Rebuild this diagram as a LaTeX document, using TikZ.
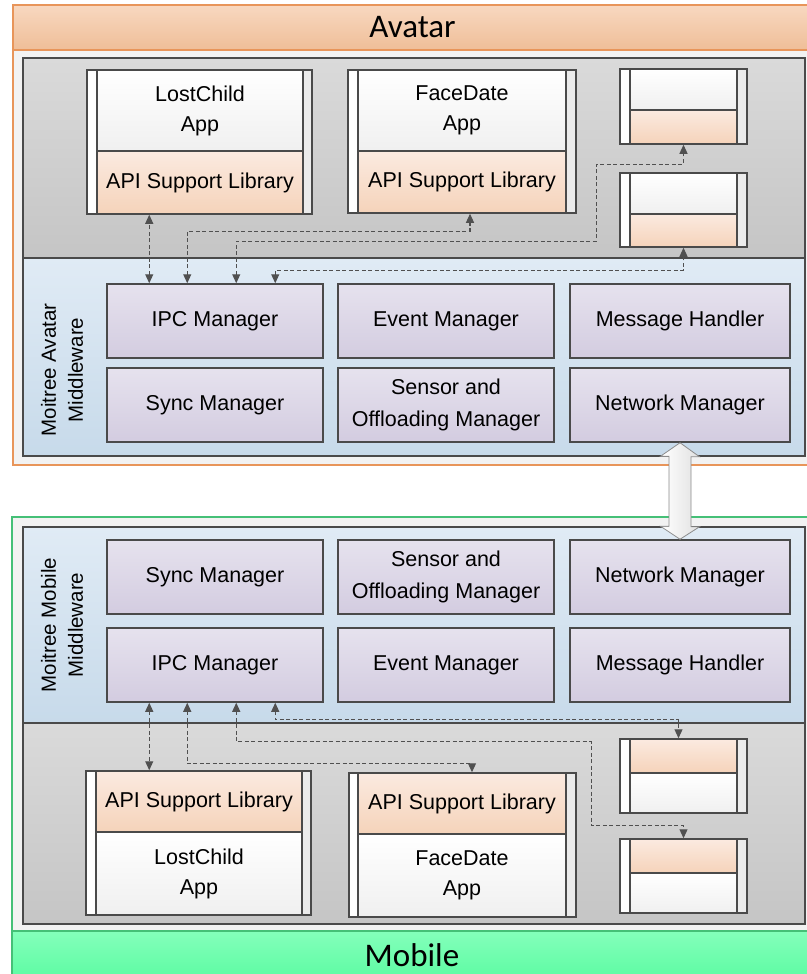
\documentclass[tikz,border=0pt]{standalone}
\usepackage{fontspec}
\setmainfont{Liberation Sans}
\newfontfamily\headfont{Carlito}
\usetikzlibrary{arrows.meta,calc}

\definecolor{frameorange}{HTML}{E8955A}
\definecolor{framegreen}{HTML}{45C077}
\definecolor{boxline}{HTML}{4A4A4A}
\definecolor{linkgray}{HTML}{505050}
\definecolor{orangetop}{HTML}{F8D8C0}
\definecolor{orangebot}{HTML}{EFBE98}
\definecolor{greentop}{HTML}{84FFBB}
\definecolor{greenbot}{HTML}{5CFBA2}
\definecolor{graytop}{HTML}{DADADA}
\definecolor{graybot}{HTML}{C5C5C5}
\definecolor{bluetop}{HTML}{E0EBF5}
\definecolor{bluebot}{HTML}{C7DAEA}
\definecolor{mgrtop}{HTML}{E6E2EE}
\definecolor{mgrbot}{HTML}{D3CCE0}
\definecolor{libtop}{HTML}{FBEAE0}
\definecolor{libbot}{HTML}{F5D3BA}

\tikzset{
  frame/.style={draw, line width=1.5pt, fill=black!5, inner sep=0pt},
  header/.style={draw, line width=1.5pt, inner sep=0pt, font=\headfont\fontsize{33}{36}\selectfont},
  panel/.style={draw=boxline, line width=1.5pt, inner sep=0pt},
  mgr/.style={draw=boxline, line width=1.5pt, inner sep=0pt, align=center,
    minimum height=74pt, top color=mgrtop, bottom color=mgrbot,
    font=\fontsize{21.5}{32}\selectfont},
  appouter/.style={draw=boxline, line width=1.5pt, inner sep=0pt, left color=white, right color=black!8},
  apppart/.style={draw=boxline, line width=1.5pt, inner sep=0pt, align=center,
    top color=white, bottom color=black!6, font=\fontsize{21.5}{30}\selectfont},
  libpart/.style={draw=boxline, line width=1.5pt, inner sep=0pt, align=center,
    top color=libtop, bottom color=libbot, font=\fontsize{21.5}{30}\selectfont},
  link/.style={draw=linkgray, line width=1.1pt, dash pattern=on 4pt off 2.5pt,
    {Triangle[length=9pt,width=8pt]}-{Triangle[length=9pt,width=8pt]}},
  bigarrow/.style={draw=black!45, line width=0.8pt, left color=white, right color=black!12}
}

\begin{document}
\begin{tikzpicture}[x=1pt, y=-1pt]
  \useasboundingbox (0,0) rectangle (806,974);

  % Avatar side
  \node[frame, draw=frameorange, minimum width=799pt, minimum height=460pt] (avatar) at (412.5,235) {};
  \node[header, draw=frameorange, top color=orangetop, bottom color=orangebot,
    minimum width=799pt, minimum height=45pt] (avatarhead) at (412.5,27.5) {Avatar};
  \node[panel, top color=graytop, bottom color=graybot, minimum width=782pt, minimum height=200pt] (appsA) at (414,158) {};
  \node[panel, top color=bluetop, bottom color=bluebot, minimum width=782pt, minimum height=198pt] (mwA) at (414,357) {};
  \node[rotate=90, align=center, font=\fontsize{20.5}{27}\selectfont] (mwlabelA) at (62,370) {Moitree Avatar\\Middleware};

  \node[mgr, minimum width=216pt] (ipcA)   at (215,321) {IPC Manager};
  \node[mgr, minimum width=216pt] (evtA)   at (446,321) {Event Manager};
  \node[mgr, minimum width=220pt] (msgA)   at (680,321) {Message Handler};
  \node[mgr, minimum width=216pt] (syncA)  at (215,405) {Sync Manager};
  \node[mgr, minimum width=216pt] (sensA)  at (446,405) {Sensor and\\Offloading Manager};
  \node[mgr, minimum width=220pt] (netA)   at (680,405) {Network Manager};

  \node[appouter, minimum width=225pt, minimum height=144pt] (lostA) at (199.5,142) {};
  \node[apppart, minimum width=206pt, minimum height=81pt] (lostappA) at (200,110.5) {LostChild\\App};
  \node[libpart, minimum width=206pt, minimum height=63pt] (libA1) at (200,182.5) {API Support Library};

  \node[appouter, minimum width=228pt, minimum height=143pt] (faceA) at (462,141.5) {};
  \node[apppart, minimum width=208pt, minimum height=81pt] (faceappA) at (462,110.5) {FaceDate\\App};
  \node[libpart, minimum width=208pt, minimum height=62pt] (libA2) at (462,182) {API Support Library};

  \node[appouter, minimum width=127pt, minimum height=75pt] (smallA1) at (683.5,106.5) {};
  \node[apppart, minimum width=107pt, minimum height=41pt] (smalltopA1) at (683.5,89.5) {};
  \node[libpart, minimum width=107pt, minimum height=34pt] (smalllibA1) at (683.5,127) {};

  \node[appouter, minimum width=127pt, minimum height=74pt] (smallA2) at (683.5,210) {};
  \node[apppart, minimum width=107pt, minimum height=41pt] (smalltopA2) at (683.5,193.5) {};
  \node[libpart, minimum width=107pt, minimum height=33pt] (smalllibA2) at (683.5,230.5) {};

  % Mobile side
  \node[frame, draw=framegreen, minimum width=800pt, minimum height=463pt] (mobile) at (412,748.5) {};
  \node[header, draw=framegreen, top color=greentop, bottom color=greenbot,
    minimum width=800pt, minimum height=49pt] (mobilehead) at (412,955.5) {Mobile};
  \node[panel, top color=bluetop, bottom color=bluebot, minimum width=782pt, minimum height=196pt] (mwM) at (414,625) {};
  \node[panel, top color=graytop, bottom color=graybot, minimum width=782pt, minimum height=201pt] (appsM) at (414,823.5) {};
  \node[rotate=90, align=center, font=\fontsize{20.5}{27}\selectfont] (mwlabelM) at (62,625) {Moitree Mobile\\Middleware};

  \node[mgr, minimum width=216pt] (syncM)  at (215,577) {Sync Manager};
  \node[mgr, minimum width=216pt] (sensM)  at (446,577) {Sensor and\\Offloading Manager};
  \node[mgr, minimum width=220pt] (netM)   at (680,577) {Network Manager};
  \node[mgr, minimum width=216pt] (ipcM)   at (215,665) {IPC Manager};
  \node[mgr, minimum width=216pt] (evtM)   at (446,665) {Event Manager};
  \node[mgr, minimum width=220pt] (msgM)   at (680,665) {Message Handler};

  \node[appouter, minimum width=225pt, minimum height=144pt] (lostM) at (198.5,843) {};
  \node[libpart, minimum width=206pt, minimum height=61pt] (libM1) at (199,801.5) {API Support Library};
  \node[apppart, minimum width=206pt, minimum height=83pt] (lostappM) at (199,873.5) {LostChild\\App};

  \node[appouter, minimum width=227pt, minimum height=144pt] (faceM) at (462.5,845) {};
  \node[libpart, minimum width=208pt, minimum height=61pt] (libM2) at (462,803.5) {API Support Library};
  \node[apppart, minimum width=208pt, minimum height=83pt] (faceappM) at (462,875.5) {FaceDate\\App};

  \node[appouter, minimum width=127pt, minimum height=74pt] (smallM1) at (683.5,776) {};
  \node[libpart, minimum width=107pt, minimum height=34pt] (smalllibM1) at (683.5,756) {};
  \node[apppart, minimum width=107pt, minimum height=40pt] (smallbotM1) at (683.5,793) {};

  \node[appouter, minimum width=127pt, minimum height=74pt] (smallM2) at (683.5,876) {};
  \node[libpart, minimum width=107pt, minimum height=34pt] (smalllibM2) at (683.5,856) {};
  \node[apppart, minimum width=107pt, minimum height=40pt] (smallbotM2) at (683.5,893) {};

  % IPC links, avatar
  \draw[link] ($(ipcA.north west)+(43,0)$) -- ($(ipcA.north west |- libA1.south)+(43,0)$);
  \draw[link] ([xshift=81pt]ipcA.north west) -- ++(0,-52) -| ([xshift=8pt]libA2.south);
  \draw[link] ([xshift=130pt]ipcA.north west) -- ++(0,-42) -| ++(360,-77) -| (smallA1.south);
  \draw[link] ([xshift=169pt]ipcA.north west) -- ++(0,-13) -| (smallA2.south);

  % IPC links, mobile
  \draw[link] ($(ipcM.south west)+(43,0)$) -- ($(ipcM.south west |- libM1.north)+(43,0)$);
  \draw[link] ([xshift=81pt]ipcM.south west) -- ++(0,61) -| ([xshift=10pt]libM2.north);
  \draw[link] ([xshift=130pt]ipcM.south west) -- ++(0,39) -| ++(355,84) -| (smallM2.north);
  \draw[link] ([xshift=169pt]ipcM.south west) -- ++(0,17) -| ([xshift=-5pt]smallM1.north);

  % network link
  \draw[bigarrow] (netA.south) -- ++(19.5,14) -- ++(-8.5,0) -- ++(0,70) -- ++(8.5,0)
    -- (netM.north) -- ++(-19.5,-13) -- ++(8.5,0) -- ++(0,-70) -- ++(-8.5,0) -- cycle;
\end{tikzpicture}
\end{document}
